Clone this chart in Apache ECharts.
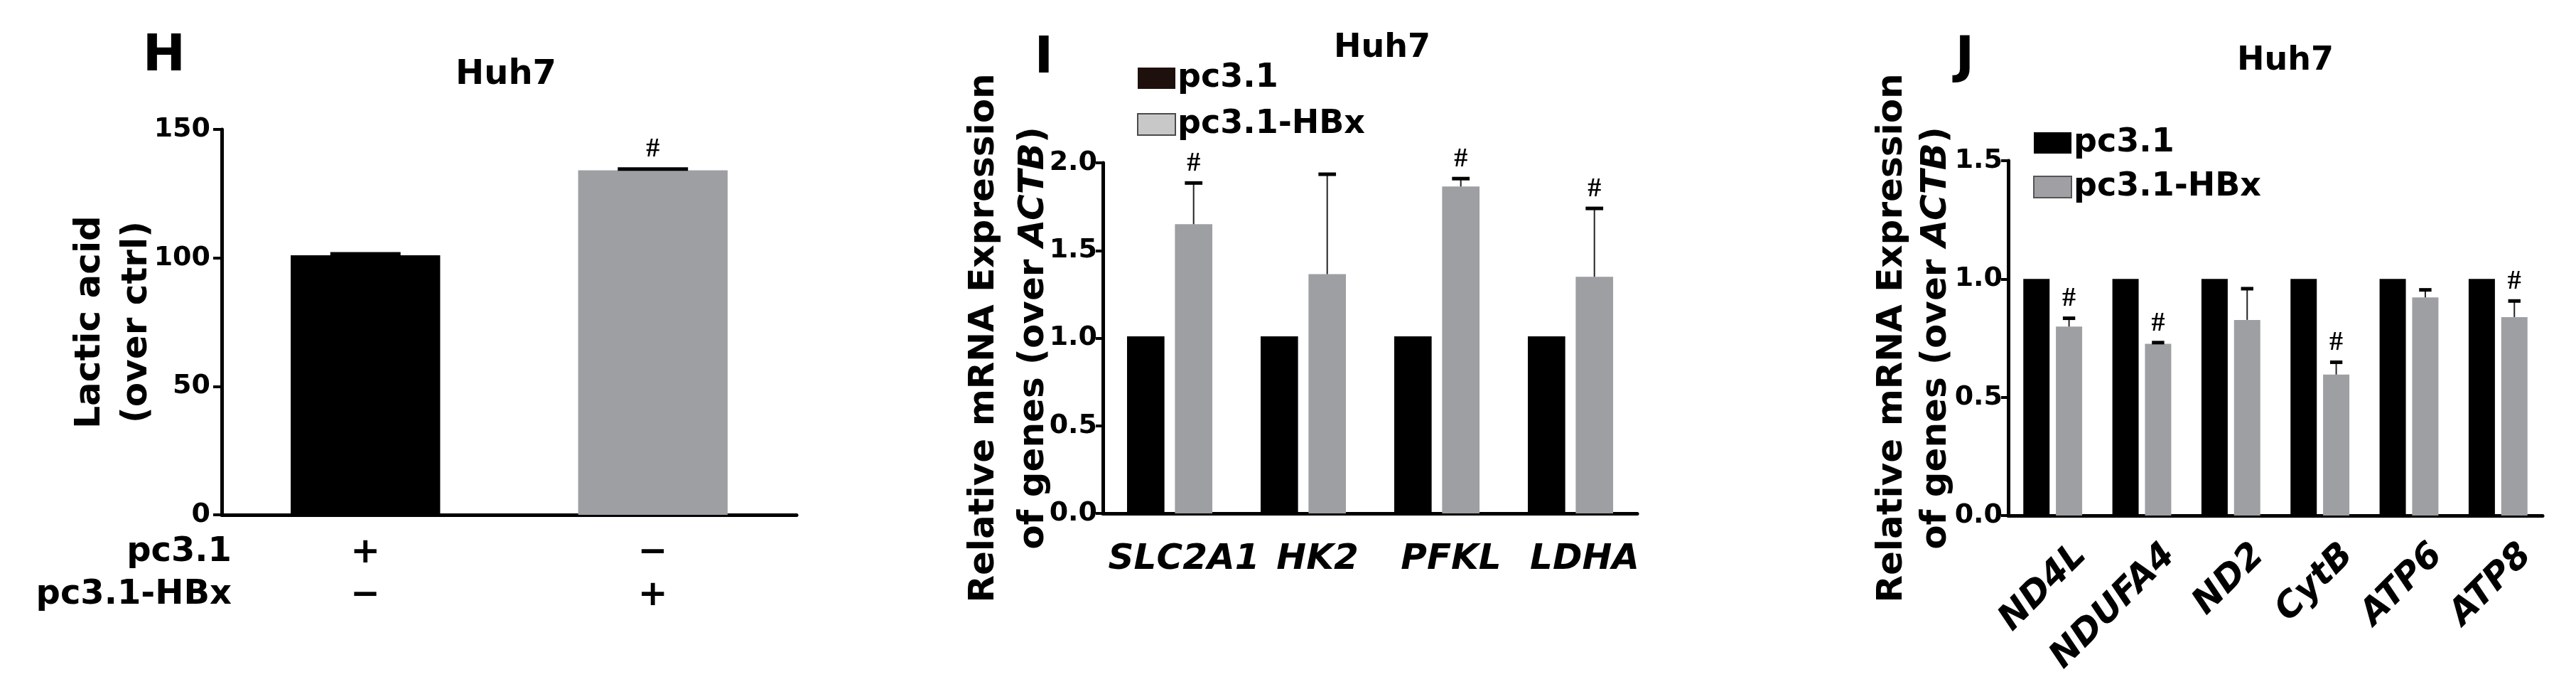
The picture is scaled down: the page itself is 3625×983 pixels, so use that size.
<!DOCTYPE html>
<html>
<head>
<meta charset="utf-8">
<script src="https://cdn.jsdelivr.net/npm/echarts@6/dist/echarts.min.js"></script>
<style>
  html, body { margin: 0; padding: 0; background: #fff; }
  #chart { width: 3625px; height: 983px; }
</style>
</head>
<body>
<div id="chart"></div>
<script>
// panel H - lactic acid
const hRows = ["pc3.1", "pc3.1-HBx"];
const hSigns = [["+", "\u2212"], ["\u2212", "+"]];
const hValues = [101, 134.1];
const hErr = [0.6, 0.5];
const hSig = [0, 1];

// panel I - glycolysis genes
const iGenes = ["SLC2A1", "HK2", "PFKL", "LDHA"];
const iCtrl = [1.01, 1.01, 1.01, 1.01];
const iHBx = [1.65, 1.365, 1.865, 1.35];
const iErr = [0.235, 0.57, 0.045, 0.39];
const iSig = [1, 0, 1, 1];

// panel J - mitochondrial genes
const jGenes = ["ND4L", "NDUFA4", "ND2", "CytB", "ATP6", "ATP8"];
const jCtrl = [1.0, 1.0, 1.0, 1.0, 1.0, 1.0];
const jHBx = [0.799, 0.726, 0.827, 0.596, 0.922, 0.839];
const jErr = [0.035, 0.005, 0.132, 0.052, 0.032, 0.068];
const jSig = [1, 1, 0, 1, 0, 1];

const FONT = "DejaVu Sans";
const BLACK = "#000000";
const GREY = "#9e9fa3";

let chart = echarts.init(document.getElementById("chart"));

// error bar (upper only) + significance mark
function errRenderer(barFrac, gapFrac, slot) {
  return function (params, api) {
    let cat = api.value(0), val = api.value(1), err = api.value(2), sig = api.value(3);
    let band = api.size([1, 0])[0];
    let w = band * barFrac;
    let x = api.coord([cat, val])[0] + slot * (w + w * gapFrac) / 2;
    let y0 = api.coord([cat, val])[1];
    let y1 = api.coord([cat, val + err])[1];
    let cw = w * 0.47;
    let kids = [
      { type: "line", shape: { x1: x, y1: y0, x2: x, y2: y1 }, style: { stroke: "#222", lineWidth: 2 } },
      { type: "line", shape: { x1: x - cw / 2, y1: y1, x2: x + cw / 2, y2: y1 }, style: { stroke: "#000", lineWidth: 5 } }
    ];
    if (sig) {
      kids.push({
        type: "text",
        style: { x: x, y: y1 - 8, text: "#", fill: "#000", font: 'bold 38px "Liberation Serif"', align: "center", verticalAlign: "bottom" }
      });
    }
    return { type: "group", children: kids };
  };
}

function errData(vals, errs, sigs) {
  return vals.map((v, i) => [i, v, errs[i], sigs[i]]);
}

let yAxisBase = {
  type: "value",
  splitLine: { show: false },
  axisLine: { show: true, lineStyle: { color: "#000", width: 5 } },
  axisTick: { show: true, length: 10, lineStyle: { color: "#000", width: 4 } },
  axisLabel: { color: "#000", fontFamily: FONT, fontWeight: "bold", fontSize: 38, margin: 12 },
  nameLocation: "middle",
  nameRotate: 90,
  nameMoveOverlap: false,
  nameTextStyle: { color: "#000", fontFamily: FONT, fontWeight: "bold", fontSize: 50, lineHeight: 66 }
};

let option = {
  backgroundColor: "#ffffff",
  animation: false,
  grid: [
    { left: 312, right: 3625 - 1121, top: 182, bottom: 259 },
    { left: 1552, right: 3625 - 2304, top: 229, bottom: 261 },
    { left: 2826, right: 3625 - 3578, top: 226, bottom: 258 }
  ],
  xAxis: [
    {
      gridIndex: 0, type: "category", data: hValues.map((v, i) => i),
      axisLine: { lineStyle: { color: "#000", width: 5 } },
      axisTick: { show: false },
      axisLabel: {
        color: "#000", fontFamily: FONT, fontWeight: "bold", fontSize: 50, lineHeight: 60, margin: 24,
        formatter: (v, i) => hSigns[i].join("\n")
      }
    },
    {
      gridIndex: 1, type: "category", data: iGenes,
      axisLine: { lineStyle: { color: "#000", width: 5 } },
      axisTick: { show: false },
      axisLabel: {
        color: "#000", fontFamily: FONT, fontWeight: "bold", fontStyle: "italic", fontSize: 50,
        margin: 40, padding: [0, 0, 0, 40], interval: 0
      }
    },
    {
      gridIndex: 2, type: "category", data: jGenes,
      axisLine: { lineStyle: { color: "#000", width: 5 } },
      axisTick: { show: false },
      axisLabel: {
        color: "#000", fontFamily: FONT, fontWeight: "bold", fontStyle: "italic", fontSize: 50,
        margin: 88, rotate: 45, interval: 0, padding: [0, -56, 0, 0]
      }
    }
  ],
  yAxis: [
    Object.assign({}, yAxisBase, {
      gridIndex: 0, min: 0, max: 150, interval: 50,
      name: "Lactic acid\n(over ctrl)", nameGap: 86,
      axisTick: { show: true, length: 12, lineStyle: { color: "#000", width: 4 } },
      axisLabel: Object.assign({}, yAxisBase.axisLabel, { margin: 16 })
    }),
    Object.assign({}, yAxisBase, {
      gridIndex: 1, min: 0, max: 2, interval: 0.5,
      axisLabel: Object.assign({}, yAxisBase.axisLabel, { margin: 8, formatter: v => v.toFixed(1) }),
      name: "Relative mRNA Expression\nof genes (over {it|ACTB})", nameGap: 62,
      nameTextStyle: {
        color: "#000", fontFamily: FONT, fontWeight: "bold", fontSize: 50, lineHeight: 70,
        rich: { it: { fontFamily: FONT, fontWeight: "bold", fontStyle: "italic", fontSize: 50, lineHeight: 70, color: "#000" } }
      }
    }),
    Object.assign({}, yAxisBase, {
      gridIndex: 2, min: 0, max: 1.5, interval: 0.5,
      axisLabel: Object.assign({}, yAxisBase.axisLabel, { margin: 8, formatter: v => v.toFixed(1) }),
      name: "Relative mRNA Expression\nof genes (over {it|ACTB})", nameGap: 70,
      nameTextStyle: {
        color: "#000", fontFamily: FONT, fontWeight: "bold", fontSize: 50, lineHeight: 62,
        rich: { it: { fontFamily: FONT, fontWeight: "bold", fontStyle: "italic", fontSize: 50, lineHeight: 62, color: "#000" } }
      }
    })
  ],
  legend: [
    {
      orient: "vertical", left: 1595, top: 82, itemWidth: 53, itemHeight: 30, itemGap: 19,
      textStyle: { color: "#000", fontFamily: FONT, fontWeight: "bold", fontSize: 46, padding: [0, 0, 0, -2] },
      data: [
        { name: "pc3.1", icon: "rect", itemStyle: { color: "#1e100c", borderWidth: 0 } },
        { name: "pc3.1-HBx", icon: "rect", itemStyle: { color: "#c8c8c8", borderColor: "#4a4a4a", borderWidth: 2 } }
      ]
    },
    {
      orient: "vertical", left: 2856, top: 173, itemWidth: 53, itemHeight: 30, itemGap: 16,
      textStyle: { color: "#000", fontFamily: FONT, fontWeight: "bold", fontSize: 46, padding: [0, 0, 0, -2] },
      data: [
        { name: "pc3.1", icon: "rect", itemStyle: { color: "#000", borderWidth: 0 } },
        { name: "pc3.1-HBx", icon: "rect", itemStyle: { color: "#a0a0a4", borderColor: "#555", borderWidth: 2 } }
      ]
    }
  ],
  series: [
    {
      name: "Lactic acid", type: "bar", xAxisIndex: 0, yAxisIndex: 0, barWidth: "52%",
      data: hValues.map((v, i) => ({ value: v, itemStyle: { color: i === 0 ? BLACK : GREY } }))
    },
    {
      name: "errH", type: "custom", xAxisIndex: 0, yAxisIndex: 0, z: 5, clip: false,
      renderItem: errRenderer(0.52, 0, 0), data: errData(hValues, hErr, hSig)
    },
    { name: "pc3.1", type: "bar", xAxisIndex: 1, yAxisIndex: 1, barWidth: "28%", barGap: "28%", itemStyle: { color: BLACK }, data: iCtrl },
    { name: "pc3.1-HBx", type: "bar", xAxisIndex: 1, yAxisIndex: 1, barWidth: "28%", barGap: "28%", itemStyle: { color: GREY }, data: iHBx },
    {
      name: "errI", type: "custom", xAxisIndex: 1, yAxisIndex: 1, z: 5, clip: false,
      renderItem: errRenderer(0.28, 0.28, 1), data: errData(iHBx, iErr, iSig)
    },
    { name: "pc3.1", type: "bar", xAxisIndex: 2, yAxisIndex: 2, barWidth: "29.5%", barGap: "24%", itemStyle: { color: BLACK }, data: jCtrl },
    { name: "pc3.1-HBx", type: "bar", xAxisIndex: 2, yAxisIndex: 2, barWidth: "29.5%", barGap: "24%", itemStyle: { color: GREY }, data: jHBx },
    {
      name: "errJ", type: "custom", xAxisIndex: 2, yAxisIndex: 2, z: 5, clip: false,
      renderItem: errRenderer(0.295, 0.24, 1), data: errData(jHBx, jErr, jSig)
    }
  ],
  graphic: [
    { type: "text", style: { x: 231, y: 80, text: "H", fill: "#000", font: 'bold 72px "DejaVu Sans"', align: "center", verticalAlign: "middle" } },
    { type: "text", style: { x: 1469, y: 83, text: "I", fill: "#000", font: 'bold 72px "DejaVu Sans"', align: "center", verticalAlign: "middle" } },
    { type: "text", style: { x: 2765, y: 83, text: "J", fill: "#000", font: 'bold 72px "DejaVu Sans"', align: "center", verticalAlign: "middle" } },
    { type: "text", style: { x: 712, y: 106, text: "Huh7", fill: "#000", font: 'bold 48px "DejaVu Sans"', align: "center", verticalAlign: "middle" } },
    { type: "text", style: { x: 1945, y: 68, text: "Huh7", fill: "#000", font: 'bold 46px "DejaVu Sans"', align: "center", verticalAlign: "middle" } },
    { type: "text", style: { x: 3216, y: 86, text: "Huh7", fill: "#000", font: 'bold 46px "DejaVu Sans"', align: "center", verticalAlign: "middle" } },
    { type: "text", style: { x: 326, y: 777, text: hRows[0], fill: "#000", font: 'bold 48px "DejaVu Sans"', align: "right", verticalAlign: "middle" } },
    { type: "text", style: { x: 326, y: 837, text: hRows[1], fill: "#000", font: 'bold 48px "DejaVu Sans"', align: "right", verticalAlign: "middle" } }
  ]
};

chart.setOption(option);
</script>
</body>
</html>
